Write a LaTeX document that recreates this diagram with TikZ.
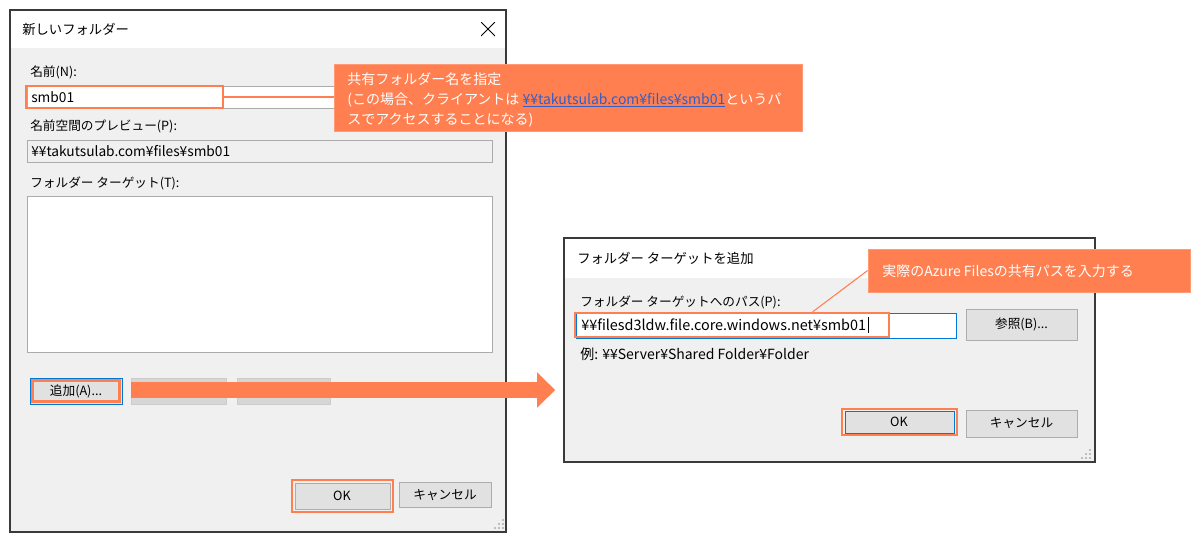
\documentclass[tikz,border=0pt]{standalone}
\usepackage{fontspec}
\setmainfont{Noto Sans CJK JP}
\usetikzlibrary{fit,calc,arrows.meta}
\definecolor{accent}{HTML}{FF7F50}
\definecolor{accentedge}{HTML}{FF9A74}
\definecolor{dlgbg}{HTML}{F0F0F0}
\definecolor{dlgborder}{HTML}{3A3A3A}
\definecolor{fieldborder}{HTML}{ABABAB}
\definecolor{btnfill}{HTML}{E1E1E1}
\definecolor{btnborder}{HTML}{ADADAD}
\definecolor{offfill}{HTML}{D6D6D6}
\definecolor{offborder}{HTML}{CCCCCC}
\definecolor{focusblue}{HTML}{0078D7}
\definecolor{linkblue}{HTML}{2F5FCB}
\definecolor{gripgray}{HTML}{BDBDBD}
\tikzset{
  ui/.style={font=\fontsize{9.5pt}{11pt}\selectfont, text=black, inner sep=0pt},
  latinui/.style={ui, font=\fontsize{10.3pt}{12pt}\selectfont},
  calltext/.style={font=\fontsize{10.5pt}{13pt}\selectfont, text=white, inner sep=0pt},
  frame/.style={draw=dlgborder, line width=1.2pt, inner sep=0pt},
  field/.style={draw=fieldborder, fill=white, line width=0.75pt, inner sep=0pt},
  rofield/.style={draw=fieldborder, fill=dlgbg, line width=0.75pt, inner sep=0pt},
  btn/.style={draw=btnborder, fill=btnfill, line width=0.75pt, inner sep=0pt},
  focusbtn/.style={draw=focusblue, fill=btnfill, line width=0.75pt, inner sep=0pt},
  offbtn/.style={draw=offborder, fill=offfill, line width=0.75pt, inner sep=0pt},
  hl/.style={draw=accent, line width=1.8pt, inner sep=0pt},
  callout/.style={fill=accent, draw=accentedge, line width=0.5pt, inner sep=0pt},
  leader/.style={draw=accent, line width=1.5pt},
  thinleader/.style={draw=accent, line width=0.8pt},
  grip/.style={fill=gripgray},
  closex/.style={minimum size=10.5pt, inner sep=0pt,
    path picture={\draw[line width=0.7pt, black]
      (path picture bounding box.north west) -- (path picture bounding box.south east)
      (path picture bounding box.north east) -- (path picture bounding box.south west);}}
}
\begin{document}
\begin{tikzpicture}[x=0.75pt,y=-0.75pt]
\useasboundingbox (0,0) rectangle (1200,546);
\fill[white] (0,0) rectangle (1200,546);

% ---------------- Left dialog ----------------
\fill[dlgbg] (10,10) rectangle (506,532);
\fill[white] (10,10) rectangle (506,48);
\node[frame, fit={(10,10) (506,532)}] (dlg1) {};
\node[ui, anchor=west, font=\fontsize{10pt}{12pt}\selectfont] (title1) at (22,29) {新しいフォルダー};
\node[closex] (close1) at (488,29) {};

\node[ui, anchor=west] (lblname) at (30,72) {名前(N):};
\node[field, fit={(27,86) (493,108)}] (namefield) {};
\node[latinui, anchor=west] (nametext) at (31,97) {smb01};
\node[hl, fit={(26,86) (223,108)}] (smbbox) {};

\node[ui, anchor=west] (lblprev) at (30,126) {名前空間のプレビュー(P):};
\node[rofield, fit={(27,140) (492,162)}] (prevfield) {};
\node[latinui, anchor=west] (prevtext) at (31,151) {¥¥takutsulab.com¥files¥smb01};

\node[ui, anchor=west] (lbltarget) at (30,183) {フォルダー ターゲット(T):};
\node[field, fit={(27,196) (492,352)}] (targetlist) {};

\node[focusbtn, fit={(30,378) (122,404)}] (addbtn) {};
\node[hl, line width=1.6pt, fit={(32.5,380.5) (119.5,401.5)}] (addhl) {};
\node[ui] (addtext) at (76,391) {追加(A)...};
\node[offbtn, fit={(131,378) (226,404)}] (off1) {};
\node[offbtn, fit={(237,378) (330,404)}] (off2) {};

\node[hl, fit={(292,480) (393,512)}] (okhl1) {};
\node[btn, fit={(295,483) (390,509)}] (okbtn1) {};
\node[ui] (oktext1) at (342,496) {OK};
\node[btn, fit={(399,482) (491,507)}] (cancel1) {};
\node[ui] (canceltext1) at (445,495) {キャンセル};

\foreach \gx/\gy in {502/519,502/523,498/523,502/527,498/527,494/527}
  \fill[grip] (\gx,\gy) rectangle ++(2,2);

% ---------------- Right dialog ----------------
\fill[dlgbg] (564,238) rectangle (1095,462);
\fill[white] (564,238) rectangle (1095,278);
\node[frame, fit={(564,238) (1095,462)}] (dlg2) {};
\node[ui, anchor=west, font=\fontsize{10pt}{12pt}\selectfont] (title2) at (577,258) {フォルダー ターゲットを追加};

\node[ui, anchor=west] (lblpath) at (580,302) {フォルダー ターゲットへのパス(P):};
\node[field, draw=focusblue, fit={(576,313) (956,338)}] (pathfield) {};
\node[hl, fit={(575,313) (889,337)}] (pathbox) {};
\node[ui, anchor=west, font=\fontsize{10.8pt}{12pt}\selectfont] (pathtext) at (581,325) {¥¥filesd3ldw.file.core.windows.net¥smb01};
\draw[line width=0.8pt] ($(pathtext.east)+(2,-8)$) -- ($(pathtext.east)+(2,8)$);
\node[btn, fit={(966,309) (1077,340)}] (browse) {};
\node[ui] (browsetext) at (1021.5,324.5) {参照(B)...};
\node[ui, anchor=west, font=\fontsize{10.5pt}{12pt}\selectfont] (example) at (580,354) {例: ¥¥Server¥Shared Folder¥Folder};

\node[focusbtn, fit={(845,411) (954,433)}] (okbtn2) {};
\node[hl, fit={(842,409) (957,435)}] (okhl2) {};
\node[ui] (oktext2) at (899,422) {OK};
\node[btn, fit={(966,410) (1077,437)}] (cancel2) {};
\node[ui] (canceltext2) at (1021.5,423) {キャンセル};

\foreach \gx/\gy in {1089/449,1089/453,1085/453,1089/457,1085/457,1081/457}
  \fill[grip] (\gx,\gy) rectangle ++(2,2);

% ---------------- Callout 1 ----------------
\node[callout, fit={(334,64) (802,131)}] (callout1) {};
\node[calltext, anchor=base west] (c1a) at (347,84) {共有フォルダー名を指定};
\node[calltext, anchor=base west] (c1b) at (347,104) {(この場合、クライアントは \textcolor{linkblue}{\underline{¥¥takutsulab.com¥files¥smb01}}というパ};
\node[calltext, anchor=base west] (c1c) at (347,124) {スでアクセスすることになる)};
\draw[leader] (smbbox.east) -- (smbbox.east -| callout1.west);

% ---------------- Callout 2 ----------------
\node[callout, fit={(868,249) (1190,292)}] (callout2) {};
\node[calltext, anchor=west] (c2) at (882,271) {実際のAzure Filesの共有パスを入力する};
\draw[thinleader] ($(pathbox.north west)!0.755!(pathbox.north east)$) -- (callout2.west);

% ---------------- Big arrow ----------------
\coordinate (arrS) at ($(addbtn.east)+(8,-1)$);
\coordinate (arrE) at ($(dlg2.west |- addbtn.east)+(-8,-1)$);
\draw[accent, line width=12pt, -{Triangle[length=13.5pt, width=25.5pt]}] (arrS) -- (arrE);
\end{tikzpicture}
\end{document}
